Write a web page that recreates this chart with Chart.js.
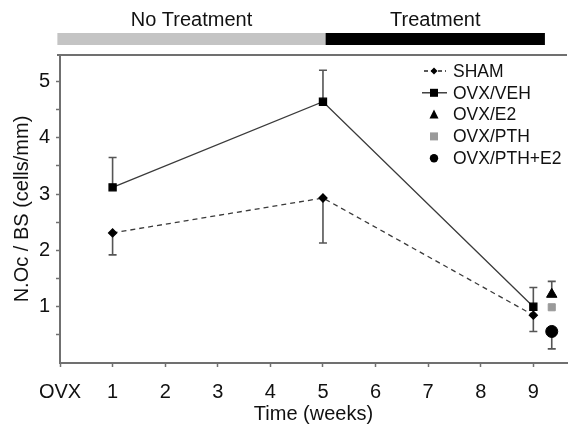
<!DOCTYPE html>
<html>
<head>
<meta charset="utf-8">
<script src="https://cdn.jsdelivr.net/npm/chart.js@4.4.1/dist/chart.umd.min.js"></script>
<style>
  html, body { margin: 0; padding: 0; background: #fff; }
  #wrap { width: 574px; height: 426px; }
</style>
</head>
<body>
<div id="wrap"><canvas id="grafico" width="574" height="426"></canvas></div>
<script>
// datos
const shamX = [1, 5, 9];
const shamY = [2.31, 2.93, 0.85];
const shamErrLo = [1.92, 2.13, 0.56];

const vehX = [1, 5, 9];
const vehY = [3.12, 4.64, 1.0];
const vehErrHi = [3.65, 5.2, 1.34];

const treatX = 9.35;
const e2Y = 1.22, e2ErrHi = 1.45;
const pthY = 0.99;
const pthE2Y = 0.56, pthE2ErrLo = 0.25;

const xTicks = [0, 1, 2, 3, 4, 5, 6, 7, 8, 9];
const xLabels = ['OVX', '1', '2', '3', '4', '5', '6', '7', '8', '9'];
const periodos = ['No Treatment', 'Treatment'];
const periodoIni = [-0.05, 5.05];
const periodoFin = [5.05, 9.22];
const periodoColor = ['#c4c4c4', '#000000'];

const FONT = '"Liberation Sans", Arial, sans-serif';
const ejeColor = '#707070';

function pts(xs, ys) { return xs.map((x, i) => ({ x: x, y: ys[i] })); }

const datasets = [
  { label: 'SHAM', data: pts(shamX, shamY), borderColor: '#3a3a3a', borderWidth: 1.3, borderDash: [5, 4],
    pointStyle: 'rectRot', pointRadius: 4, backgroundColor: '#000', pointBorderColor: '#000',
    errLo: shamErrLo },
  { label: 'OVX/VEH', data: pts(vehX, vehY), borderColor: '#3a3a3a', borderWidth: 1.3,
    pointStyle: 'rect', pointRadius: 5, backgroundColor: '#000', pointBorderColor: '#000',
    errHi: vehErrHi },
  { label: 'OVX/E2', data: [{ x: treatX, y: e2Y }], showLine: false,
    pointStyle: 'triangle', pointRadius: 6, backgroundColor: '#000', pointBorderColor: '#000',
    errHi: [e2ErrHi] },
  { label: 'OVX/PTH', data: [{ x: treatX, y: pthY }], showLine: false,
    pointStyle: 'rect', pointRadius: 5, backgroundColor: '#9a9a9a', pointBorderColor: '#9a9a9a' },
  { label: 'OVX/PTH+E2', data: [{ x: treatX, y: pthE2Y }], showLine: false,
    pointStyle: 'circle', pointRadius: 6, backgroundColor: '#000', pointBorderColor: '#000',
    errLo: [pthE2ErrLo] }
];

// barras de error (solo un lado, como en la figura)
const errorBars = {
  id: 'errorBars',
  beforeDatasetsDraw(chart) {
    const { ctx, scales: { x, y } } = chart;
    ctx.save();
    ctx.strokeStyle = '#555';
    ctx.lineWidth = 1.6;
    chart.data.datasets.forEach(ds => {
      ds.data.forEach((p, i) => {
        const px = x.getPixelForValue(p.x);
        const py = y.getPixelForValue(p.y);
        [ds.errHi, ds.errLo].forEach(arr => {
          if (!arr || arr[i] == null) return;
          const ey = y.getPixelForValue(arr[i]);
          ctx.beginPath();
          ctx.moveTo(px, py); ctx.lineTo(px, ey);
          ctx.moveTo(px - 4, ey); ctx.lineTo(px + 4, ey);
          ctx.stroke();
        });
      });
    });
    ctx.restore();
  }
};

const extras = {
  id: 'extras',
  afterDraw(chart) {
    const { ctx, scales: { x, y }, chartArea } = chart;
    ctx.save();
    // borde superior
    ctx.strokeStyle = ejeColor;
    ctx.lineWidth = 2;
    ctx.beginPath();
    ctx.moveTo(chartArea.left - 3, chartArea.top);
    ctx.lineTo(chartArea.right, chartArea.top);
    ctx.stroke();
    // barra de periodos
    ctx.font = '20px ' + FONT;
    ctx.textAlign = 'center';
    ctx.textBaseline = 'middle';
    periodos.forEach((nombre, i) => {
      const x0 = x.getPixelForValue(periodoIni[i]);
      const x1 = x.getPixelForValue(periodoFin[i]);
      ctx.fillStyle = periodoColor[i];
      ctx.fillRect(x0, 33, x1 - x0, 12);
      ctx.fillStyle = '#111';
      ctx.fillText(nombre, (x0 + x1) / 2, 20);
    });
    // leyenda
    ctx.font = '17.5px ' + FONT;
    ctx.textAlign = 'left';
    const lx = 434, tx = 453;
    chart.data.datasets.forEach((ds, i) => {
      const ly = 71 + i * 21.8;
      ctx.strokeStyle = '#222';
      ctx.lineWidth = 1.3;
      if (i === 0) {
        ctx.setLineDash([4, 3]);
        ctx.beginPath(); ctx.moveTo(lx - 10, ly); ctx.lineTo(lx + 12, ly); ctx.stroke();
        ctx.setLineDash([]);
      } else if (i === 1) {
        ctx.beginPath(); ctx.moveTo(lx - 12, ly); ctx.lineTo(lx + 13, ly); ctx.stroke();
      }
      ctx.fillStyle = ds.backgroundColor;
      ctx.beginPath();
      if (ds.pointStyle === 'rectRot') {
        ctx.moveTo(lx, ly - 3.5); ctx.lineTo(lx + 3.5, ly); ctx.lineTo(lx, ly + 3.5); ctx.lineTo(lx - 3.5, ly);
      } else if (ds.pointStyle === 'rect') {
        ctx.rect(lx - 4, ly - 4, 8, 8);
      } else if (ds.pointStyle === 'triangle') {
        ctx.moveTo(lx, ly - 5); ctx.lineTo(lx + 4.5, ly + 4); ctx.lineTo(lx - 4.5, ly + 4);
      } else {
        ctx.arc(lx, ly, 4.2, 0, Math.PI * 2);
      }
      ctx.closePath();
      ctx.fill();
      ctx.fillStyle = '#111';
      ctx.fillText(ds.label, tx, ly + 1);
    });
    ctx.restore();
  }
};

new Chart(document.getElementById('grafico'), {
  type: 'scatter',
  data: { datasets: datasets.map(d => Object.assign({ showLine: true, fill: false }, d)) },
  options: {
    responsive: false,
    animation: false,
    layout: { padding: { top: 55, right: 0, left: 0, bottom: 0 } },
    plugins: { legend: { display: false }, tooltip: { enabled: false } },
    scales: {
      x: {
        type: 'linear', min: 0, max: 9.64,
        afterBuildTicks: s => { s.ticks = xTicks.map(v => ({ value: v })); },
        afterFit: s => { s.height = 63; },
        border: { color: ejeColor, width: 2 },
        grid: { drawOnChartArea: false, tickLength: 4, color: ejeColor, tickWidth: 1.5 },
        ticks: {
          color: '#111', font: { family: FONT, size: 20 }, padding: 13, maxRotation: 0,
          callback: v => xLabels[xTicks.indexOf(v)]
        },
        title: { display: true, text: 'Time (weeks)', color: '#111', font: { family: FONT, size: 20 }, padding: { top: 0, bottom: 0 } }
      },
      y: {
        min: 0, max: 5.47,
        afterBuildTicks: s => {
          const t = [];
          for (let v = 0.5; v <= 5.01; v += 0.5) t.push({ value: Math.round(v * 10) / 10 });
          s.ticks = t;
        },
        afterFit: s => { s.width = 60; },
        border: { color: ejeColor, width: 2 },
        grid: { drawOnChartArea: false, tickLength: 4, color: ejeColor, tickWidth: 1.5 },
        ticks: {
          color: '#111', font: { family: FONT, size: 20 }, padding: 6,
          callback: v => (Number.isInteger(v) ? v : '')
        },
        title: { display: true, text: 'N.Oc / BS (cells/mm)', color: '#111', font: { family: FONT, size: 20 }, padding: { top: 10, bottom: 4 } }
      }
    }
  },
  plugins: [errorBars, extras]
});
</script>
</body>
</html>
